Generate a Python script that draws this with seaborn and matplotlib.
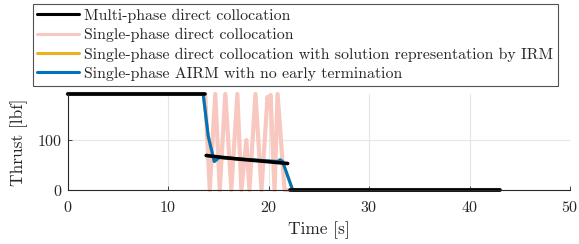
# =========================
# IMPORT LIBRARIES
# =========================

import numpy as np
import pandas as pd
import matplotlib
matplotlib.use("Agg")
import matplotlib.pyplot as plt
import seaborn as sns

# =========================
# DATA
# =========================

# multi-phase direct collocation: three phases
phase1_t = [0.0, 13.65]
phase1_T = [192.0, 192.0]
phase2_t = [13.8, 15.5, 17.5, 19.5, 21.9]
phase2_T = [69.0, 65.0, 61.0, 57.5, 53.0]
phase3_t = [22.1, 43.0]
phase3_T = [0.0, 0.0]

# single-phase direct collocation (oscillating)
single_t = [0.0, 13.7, 14.15, 14.7, 15.15, 15.7, 16.3, 16.9, 17.3, 17.8, 18.1,
            18.7, 19.3, 19.9, 20.05, 20.2, 20.6, 20.9, 21.6, 22.0, 43.0]
single_T = [192.0, 192.0, 0.0, 192.0, 0.0, 192.0, 0.0, 192.0, 0.0, 100.0, 0.0,
            192.0, 0.0, 186.0, 165.0, 190.0, 0.0, 192.0, 0.0, 0.0, 0.0]

# single-phase direct collocation with IRM representation
irm_t = [0.0, 13.5, 14.0, 14.6, 15.1, 17.5, 20.9, 21.15, 21.4, 22.4, 43.0]
irm_T = [192.0, 192.0, 105.0, 57.0, 65.0, 61.5, 57.0, 60.0, 57.0, 0.0, 0.0]

# single-phase AIRM with no early termination
airm_t = [0.0, 13.5, 14.0, 14.6, 15.1, 17.5, 20.9, 21.15, 21.4, 22.4, 43.0]
airm_T = [192.0, 192.0, 108.0, 57.0, 65.0, 61.5, 57.0, 60.5, 57.0, 0.0, 0.0]

x_ticks = [0, 10, 20, 30, 40, 50]
y_ticks = [0, 100]

labels = ["Multi-phase direct collocation",
          "Single-phase direct collocation",
          "Single-phase direct collocation with solution representation by IRM",
          "Single-phase AIRM with no early termination"]

# =========================
# STYLE
# =========================

sns.set_style("whitegrid")
plt.rcParams["font.family"] = ["cmr10", "DejaVu Serif"]
plt.rcParams["mathtext.fontset"] = "cm"
plt.rcParams["axes.formatter.use_mathtext"] = True
plt.rcParams["font.size"] = 11

fig = plt.figure(figsize=(5.79, 2.44), dpi=100)
ax = fig.add_axes([0.1166, 0.2213, 0.9845 - 0.1166, 0.6148 - 0.2213])

# =========================
# PLOT
# =========================

pink = "#F8C7BF"

sns.lineplot(x=single_t, y=single_T, ax=ax, color=pink,
             linewidth=3.0, sort=False, estimator=None, label=labels[1])
sns.lineplot(x=irm_t, y=irm_T, ax=ax, color="#EDB120", linewidth=2.2,
             sort=False, estimator=None, label=labels[2])
sns.lineplot(x=airm_t, y=airm_T, ax=ax, color="#0072BD", linewidth=2.2,
             sort=False, estimator=None, label=labels[3])

for i, (t, T) in enumerate([(phase1_t, phase1_T), (phase2_t, phase2_T),
                            (phase3_t, phase3_T)]):
    sns.lineplot(x=t, y=T, ax=ax, color="black", linewidth=2.6, sort=False,
                 estimator=None, label=labels[0] if i == 0 else None)

for line in ax.lines:
    line.set_clip_on(False)

ax.set_xlim(0, 50)
ax.set_ylim(0, 192)
ax.set_xticks(x_ticks)
ax.set_yticks(y_ticks)
ax.set_xlabel("Time [s]", fontsize=12.5, labelpad=5)
ax.set_ylabel("Thrust [lbf]", fontsize=12.5, labelpad=6)

ax.grid(True, color="#e6e6e6", linewidth=0.8)
for side in ["top", "right"]:
    ax.spines[side].set_visible(False)
for side in ["left", "bottom"]:
    ax.spines[side].set_color("#262626")
    ax.spines[side].set_linewidth(0.8)
ax.tick_params(direction="in", length=3, width=0.6, color="#262626",
               labelsize=11.5, left=True, bottom=True)
ax.tick_params(axis="x", pad=7)
ax.tick_params(axis="y", pad=4)

# legend in MATLAB order, above axes
handles, labs = ax.get_legend_handles_labels()
order = [labs.index(l) for l in labels]
leg = ax.legend([handles[i] for i in order], [labs[i] for i in order],
                loc="upper center", bbox_to_anchor=(0.51, 0.985),
                bbox_transform=fig.transFigure, frameon=True, fancybox=False,
                edgecolor="#262626", fontsize=11.45, handlelength=2.6,
                handletextpad=0.35, labelspacing=0.33, borderpad=0.3,
                borderaxespad=0.0)
leg.get_frame().set_linewidth(0.8)
for h in leg.get_lines():
    h.set_linewidth(2.2)

fig.savefig("out.png", dpi=100)
